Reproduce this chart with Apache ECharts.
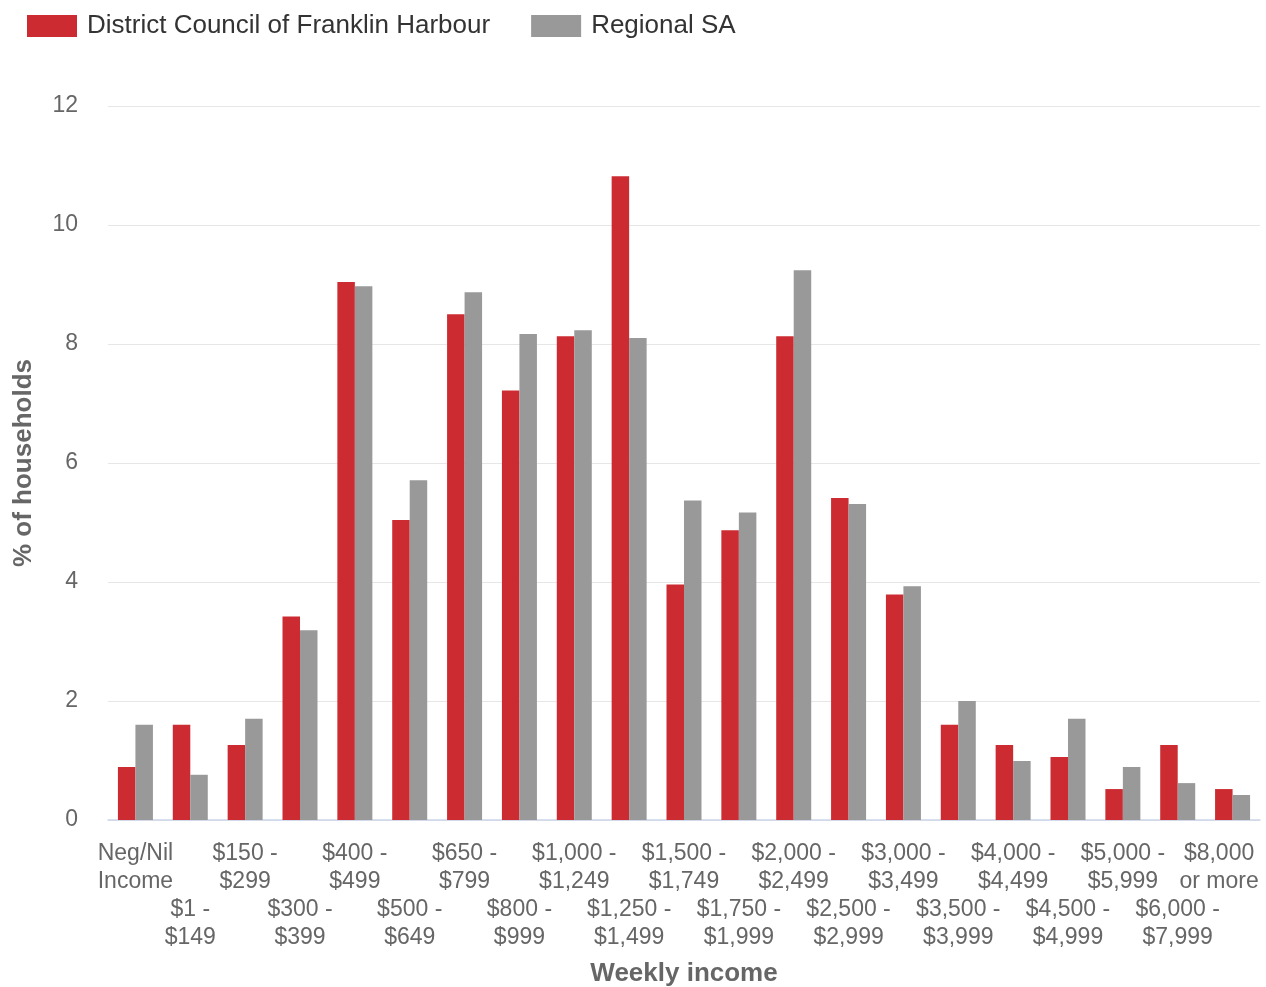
<!DOCTYPE html>
<html>
<head>
<meta charset="utf-8">
<script src="https://cdn.jsdelivr.net/npm/echarts@6/dist/echarts.min.js"></script>
<style>html,body{margin:0;padding:0;background:#fff;overflow:hidden}#chart{width:1266px;height:987px}</style>
</head>
<body>
<div id="chart"></div>
<script>
const categories = ["Neg/Nil\nIncome","$1 -\n$149","$150 -\n$299","$300 -\n$399","$400 -\n$499","$500 -\n$649","$650 -\n$799","$800 -\n$999","$1,000 -\n$1,249","$1,250 -\n$1,499","$1,500 -\n$1,749","$1,750 -\n$1,999","$2,000 -\n$2,499","$2,500 -\n$2,999","$3,000 -\n$3,499","$3,500 -\n$3,999","$4,000 -\n$4,499","$4,500 -\n$4,999","$5,000 -\n$5,999","$6,000 -\n$7,999","$8,000\nor more"];
const franklinHarbour = [0.89,1.60,1.26,3.42,9.04,5.04,8.50,7.22,8.13,10.82,3.96,4.87,8.13,5.41,3.79,1.60,1.26,1.06,0.52,1.26,0.52];
const regionalSA = [1.60,0.76,1.70,3.19,8.97,5.71,8.87,8.17,8.23,8.10,5.37,5.17,9.24,5.31,3.93,2.00,0.99,1.70,0.89,0.62,0.42];
const seriesNames = ["District Council of Franklin Harbour","Regional SA"];
const yTicks = {min:0, max:12, interval:2};

const chart = echarts.init(document.getElementById('chart'));
const font = 'Liberation Sans, Arial, sans-serif';
const lastIdx = categories.length - 1;
chart.setOption({
  animation:false,
  textStyle:{fontFamily:font},
  legend:{
    left:27, top:13, padding:0, itemWidth:50, itemHeight:22, itemGap:41,
    icon:'rect',
    textStyle:{fontSize:26, color:'#333333', fontFamily:font, padding:[0,0,0,5]},
    data:seriesNames
  },
  grid:{left:108, right:6, top:106, bottom:167, containLabel:false, outerBoundsMode:'none'},
  xAxis:{
    type:'category',
    data:categories,
    name:'Weekly income',
    nameLocation:'middle',
    nameGap:141,
    nameTextStyle:{fontSize:26, fontWeight:'bold', color:'#666666', fontFamily:font},
    axisLine:{lineStyle:{color:'#ccd6eb', width:1.5}},
    axisTick:{alignWithLabel:true, length:20, lineStyle:{color:'#ccd6eb', width:1.5}},
    axisLabel:{
      interval:0, fontSize:23, color:'#666666', lineHeight:28, margin:20, fontFamily:font,
      formatter:function(v, i){
        if (i === lastIdx) {
          return v.split('\n').map(function(s){ return '{last|' + s + '}'; }).join('\n');
        }
        return (i % 2 === 1 ? '\n\n' : '') + v;
      },
      rich:{
        last:{fontSize:23, color:'#666666', lineHeight:28, fontFamily:font, padding:[0,27,0,0]}
      }
    }
  },
  yAxis:{
    type:'value',
    min:yTicks.min, max:yTicks.max, interval:yTicks.interval,
    name:'% of households',
    nameLocation:'middle',
    nameGap:71,
    nameTextStyle:{fontSize:26, fontWeight:'bold', color:'#666666', fontFamily:font},
    axisLabel:{fontSize:23, color:'#666666', margin:30, fontFamily:font, padding:[4,0,0,0]},
    splitLine:{lineStyle:{color:'#e6e6e6', width:1}},
    axisLine:{show:false}, axisTick:{show:false}
  },
  series:[
    {name:seriesNames[0], type:'bar', data:franklinHarbour, itemStyle:{color:'#cc2b31'}, barWidth:17.5, barGap:'0%'},
    {name:seriesNames[1], type:'bar', data:regionalSA, itemStyle:{color:'#999999'}, barWidth:17.5, barGap:'0%'}
  ]
});
</script>
</body>
</html>
